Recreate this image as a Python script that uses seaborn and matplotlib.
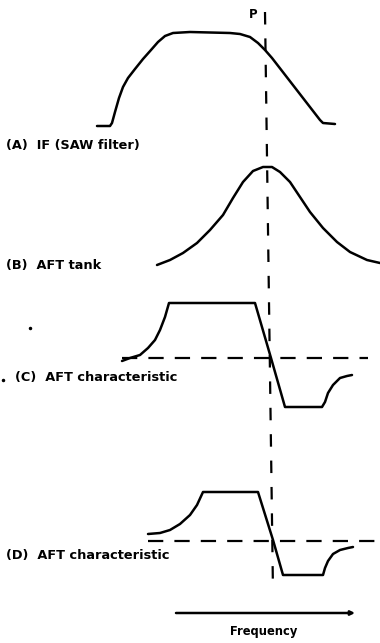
import matplotlib
matplotlib.use("Agg")
import matplotlib.pyplot as plt
import seaborn as sns
import pandas as pd

# Curve traces in drawing units (x to the right, y downward)
if_saw_x = [97, 110, 112, 115, 119, 123, 128, 135, 143, 151, 158, 165, 173, 190, 230, 240, 250, 258, 265, 272, 320, 323, 335]
if_saw_y = [126, 126, 123, 112, 98, 87, 78, 69, 59, 50, 42, 36, 33, 32, 33, 34, 37, 43, 50, 58, 120, 123, 124]

tank_x = [157, 170, 183, 197, 210, 223, 233, 243, 253, 263, 272, 280, 290, 300, 310, 323, 337, 350, 367, 380]
tank_y = [265, 260, 253, 243, 230, 215, 198, 182, 171, 167, 167, 172, 182, 197, 212, 228, 242, 252, 260, 263]

aft_c_x = [122, 130, 140, 148, 155, 160, 165, 169, 255, 271, 285, 322, 325, 328, 333, 340, 347, 352]
aft_c_y = [361, 358, 355, 348, 340, 330, 317, 303, 303, 358, 407, 407, 402, 393, 385, 378, 376, 375]

aft_d_x = [148, 160, 170, 180, 190, 197, 203, 258, 273, 283, 323, 325, 328, 333, 340, 348, 353]
aft_d_y = [534, 533, 530, 524, 515, 505, 492, 492, 540, 575, 575, 568, 561, 554, 550, 548, 547]

# Reference lines: tuning point P and the zero level of each AFT curve
p_line_x = [265, 273]
p_line_y = [12, 592]
zero_c_x = [122, 368]
zero_c_y = [358, 358]
zero_d_x = [148, 380]
zero_d_y = [541, 541]

freq_axis_x = [176, 355]
freq_axis_y = [613, 613]

labels = ["(A)  IF (SAW filter)", "(B)  AFT tank", "(C)  AFT characteristic", "(D)  AFT characteristic"]
label_x = [6, 6, 15, 6]
label_y = [146, 266, 378, 556]

sns.set_theme(style="white")
plt.rcParams["font.family"] = ["DejaVu Sans"]
plt.rcParams["lines.scale_dashes"] = False

fig = plt.figure(figsize=(3.8, 6.43), dpi=100)
ax = fig.add_axes([0, 0, 1, 1])
ax.set_xlim(0, 380)
ax.set_ylim(643, 0)
ax.axis("off")

curves = [(if_saw_x, if_saw_y), (tank_x, tank_y), (aft_c_x, aft_c_y), (aft_d_x, aft_d_y)]
for cx, cy in curves:
    df = pd.DataFrame({"f": cx, "v": cy})
    sns.lineplot(data=df, x="f", y="v", sort=False, estimator=None, ax=ax,
                 color="black", linewidth=1.8, solid_joinstyle="round", solid_capstyle="round")

dashed = [(p_line_x, p_line_y, (9, 10)), (zero_c_x, zero_c_y, (11, 8)), (zero_d_x, zero_d_y, (11, 8))]
for dx, dy, pat in dashed:
    df = pd.DataFrame({"f": dx, "v": dy})
    sns.lineplot(data=df, x="f", y="v", sort=False, estimator=None, ax=ax,
                 color="black", linewidth=1.6).lines[-1].set_dashes(pat)

ax.annotate("", xy=(freq_axis_x[1], freq_axis_y[1]), xytext=(freq_axis_x[0], freq_axis_y[0]),
            arrowprops=dict(arrowstyle="-|>", color="black", lw=1.8,
                            mutation_scale=6, shrinkA=0, shrinkB=0))

for txt, tx, ty in zip(labels, label_x, label_y):
    ax.text(tx, ty, txt, fontsize=9.3, fontweight="bold", ha="left", va="center", color="black")

ax.text(249, 14, "P", fontsize=8.5, fontweight="bold", ha="left", va="center", color="black")
ax.text(264, 631, "Frequency", fontsize=8.3, fontweight="bold", ha="center", va="center", color="black")

# stray specks
ax.plot([3, 30], [380, 328], "o", color="black", markersize=1.5)

ax.set_xlabel("")
ax.set_ylabel("")
fig.savefig("out.png", dpi=100, facecolor="white")
